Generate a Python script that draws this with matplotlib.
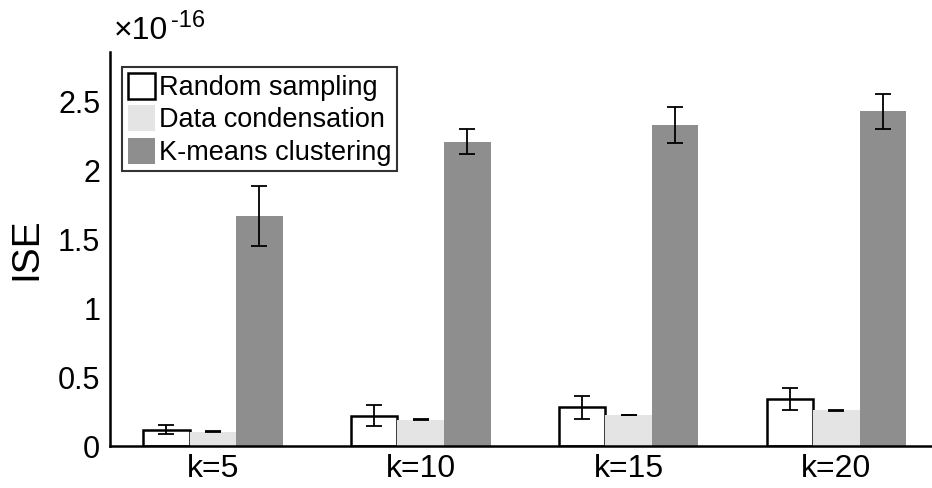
import matplotlib
matplotlib.use("Agg")
import matplotlib.pyplot as plt
import numpy as np

plt.rcParams['font.family'] = ['Liberation Sans', 'DejaVu Sans']

categories = ["k=5", "k=10", "k=15", "k=20"]
series_names = ["Random sampling", "Data condensation", "K-means clustering"]
random_sampling = [0.12, 0.22, 0.28, 0.34]
random_err = [0.035, 0.075, 0.085, 0.08]
data_condensation = [0.105, 0.19, 0.225, 0.26]
data_err = [0.003, 0.003, 0.003, 0.003]
kmeans = [1.67, 2.21, 2.33, 2.43]
kmeans_err = [0.22, 0.09, 0.13, 0.13]

fig = plt.figure(figsize=(9.32, 4.88), dpi=100)
ax = fig.add_axes([0.118, 0.086, 0.882, 0.807])

x = np.arange(1, len(categories) + 1)
w = 0.224
ekw = dict(ecolor='black', elinewidth=1.3, capsize=6, capthick=1.3)
ax.bar(x - w, random_sampling, w, yerr=random_err, color='white', edgecolor='black',
       linewidth=1.8, label=series_names[0], error_kw=ekw, zorder=2)
ax.bar(x, data_condensation, w, yerr=data_err, color='#e4e4e4', edgecolor='none',
       label=series_names[1], error_kw=ekw, zorder=2)
ax.bar(x + w, kmeans, w, yerr=kmeans_err, color='#8e8e8e', edgecolor='none',
       label=series_names[2], error_kw=ekw, zorder=2)

ax.set_xlim(0.505, 4.46)
ax.set_ylim(0, 2.86)
ax.set_xticks(x)
ax.set_xticklabels(categories, fontsize=23)
ax.set_yticks([0, 0.5, 1, 1.5, 2, 2.5])
ax.set_yticklabels(["0", "0.5", "1", "1.5", "2", "2.5"], fontsize=22)
ax.tick_params(axis='both', length=0)
ax.tick_params(axis='y', pad=7)
ax.tick_params(axis='x', pad=6)
for s in ['top', 'right']:
    ax.spines[s].set_visible(False)
for s in ['left', 'bottom']:
    ax.spines[s].set_linewidth(1.8)
ax.set_ylabel("ISE", fontsize=28, labelpad=10)

fig.text(0.122, 0.905, "\u00d710", fontsize=23, ha='left', va='bottom')
fig.text(0.183, 0.935, "-16", fontsize=17, ha='left', va='bottom')

leg = ax.legend(loc='upper left', bbox_to_anchor=(0.015, 0.962), fontsize=19.5,
                frameon=True, fancybox=False, edgecolor='black', handlelength=1.0,
                handleheight=1.1, handletextpad=0.15, borderpad=0.2, labelspacing=0.16,
                borderaxespad=0.0)
leg.get_frame().set_linewidth(1.5)

fig.savefig("out.png", dpi=100)
